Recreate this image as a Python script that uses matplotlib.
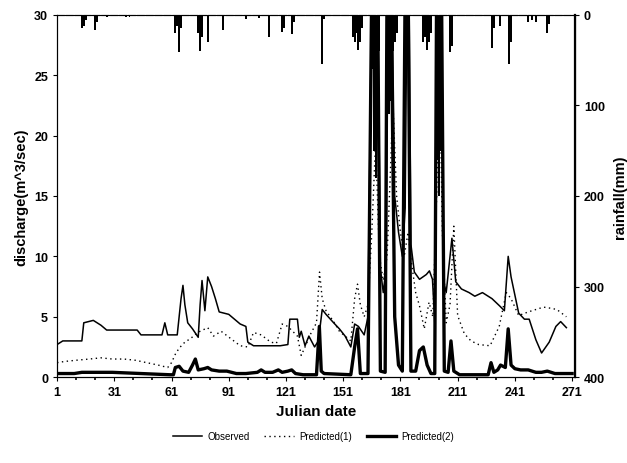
import numpy as np
import matplotlib
matplotlib.use("Agg")
import matplotlib.pyplot as plt
from matplotlib.ticker import FixedLocator

plt.rcParams['font.family'] = ['Liberation Sans', 'DejaVu Sans']

# ---------------------------
# Daten
# ---------------------------
obs_day = [1, 4, 14, 15, 20, 24, 27, 43, 45, 56, 57.5, 59, 64, 66, 67, 68, 69.5, 72, 75,
           76, 77, 78.5, 80, 82, 84, 86, 91, 94, 97, 100, 101, 104, 118, 122, 123, 127,
           128, 129, 131, 133, 136, 138, 140, 142, 146, 149, 152, 155, 157, 159, 162,
           164, 166, 169, 170.5, 172, 173.5, 174.5, 176.5, 178, 180, 182, 183.5, 184.5,
           185.5, 186.5, 188.3, 191, 194.6, 196.2, 197.8, 199, 200, 202.5, 203.5, 205,
           208, 210, 213, 217, 220, 224, 229, 233, 235.5, 237.5, 239, 243, 246, 248.5,
           252, 255, 259, 262.5, 265, 268]
obs_val = [2.7, 3.0, 3.0, 4.5, 4.7, 4.3, 3.9, 3.9, 3.5, 3.5, 4.5, 3.5, 3.5, 6.5, 7.6, 6.0,
           4.5, 4.0, 3.3, 6.0, 8.0, 5.5, 8.3, 7.5, 6.5, 5.4, 5.2, 4.8, 4.4, 4.2, 2.9, 2.6,
           2.6, 2.7, 4.8, 4.8, 3.3, 3.8, 2.6, 3.4, 2.5, 3.0, 5.6, 5.2, 4.5, 4.0, 3.4, 2.5,
           4.4, 4.2, 3.5, 5.0, 33, 33, 9.0, 7.0, 9.0, 33, 33, 15, 12, 10, 14, 33, 33, 11,
           8.7, 8.1, 8.5, 8.8, 8.1, 4.5, 33, 33, 8.0, 7.0, 11.5, 7.9, 7.3, 7.0, 6.7, 7.0,
           6.5, 5.9, 5.5, 10.0, 8.3, 5.3, 4.8, 4.8, 3.1, 2.0, 2.9, 4.2, 4.6, 4.1]

p1_day = [1, 5, 11, 18, 24, 30, 36, 42, 48, 54, 59, 61, 63, 65, 68, 71, 74, 76, 80, 83,
          87, 92, 97, 101, 104, 108, 113, 116, 119, 122, 127, 129, 131, 134, 137, 138.6,
          140, 142, 146, 149, 152, 155, 157, 158.5, 160, 162, 164, 166, 168, 170, 172,
          174, 176, 177, 179, 181, 183, 185, 186.5, 189, 191, 193.5, 196, 198, 200,
          201.5, 203, 205, 207, 209, 211, 214.5, 218, 222, 228, 232.8, 236.5, 239, 243,
          248, 252, 256, 260, 263, 268]
p1_val = [1.2, 1.3, 1.4, 1.5, 1.6, 1.5, 1.5, 1.4, 1.2, 1.0, 0.8, 1.2, 1.9, 2.4, 2.9, 3.2,
          3.6, 3.8, 4.1, 3.4, 3.8, 3.2, 2.6, 2.5, 3.7, 3.5, 2.9, 2.8, 4.4, 4.2, 3.4, 1.8,
          2.5, 3.6, 4.5, 8.7, 6.5, 5.5, 4.6, 3.8, 3.4, 3.0, 6.5, 7.7, 6.0, 5.0, 6.0, 12,
          19.5, 10, 8, 10, 18, 23, 15, 12, 10, 12, 9.8, 7.0, 5.9, 4.0, 6.2, 5.0, 15, 26,
          12, 4.5, 6.0, 12.5, 5.1, 3.6, 3.0, 2.7, 2.6, 4.2, 7.0, 6.5, 5.1, 5.4, 5.6, 5.8,
          5.7, 5.6, 5.0]

p2_day = [1, 10, 14, 30, 45, 60, 62, 63, 65, 67, 70, 72, 73.5, 75, 78, 80, 82, 86, 90,
          95, 100, 106, 108, 110, 114, 117, 119, 122, 124, 126, 130, 137, 138.5, 139.5,
          141, 155, 157, 158.5, 160, 164, 166, 169, 170.5, 173, 174, 176, 178, 180, 182,
          183.5, 185, 186.5, 189, 191, 193, 195, 197, 199, 200, 202.5, 204, 206, 207.5,
          209, 212, 227, 228.5, 230, 232, 233.5, 236, 237.5, 239, 241, 244, 248, 252,
          255, 258, 262, 271]
p2_val = [0.3, 0.3, 0.4, 0.4, 0.3, 0.2, 0.2, 0.8, 0.9, 0.5, 0.4, 1.0, 1.5, 0.6, 0.7, 0.8,
          0.6, 0.5, 0.5, 0.3, 0.3, 0.4, 0.6, 0.4, 0.4, 0.6, 0.4, 0.5, 0.6, 0.3, 0.2, 0.2,
          4.2, 0.5, 0.3, 0.2, 2.5, 4.0, 0.3, 0.3, 33, 33, 0.5, 0.4, 33, 33, 5.0, 1.0, 0.5,
          33, 33, 0.5, 0.5, 2.2, 2.5, 1.0, 0.3, 0.3, 33, 33, 0.5, 0.4, 3.0, 0.5, 0.2, 0.2,
          1.2, 0.4, 0.6, 1.0, 0.8, 4.0, 1.0, 0.7, 0.6, 0.6, 0.4, 0.4, 0.5, 0.3, 0.3]

rain_day = [14, 15, 16, 21, 22, 27, 37, 39, 63, 64, 65, 66, 75, 76, 77, 80, 88, 100, 107,
            112, 119, 120, 124, 125, 140, 141, 156, 157, 158, 159, 160, 161, 166, 167,
            168, 169, 170, 174, 175, 176, 177, 178, 179, 184, 193, 194, 195, 196, 197,
            200, 201, 202, 203, 207, 208, 229, 230, 233, 238, 239, 248, 250, 252, 258, 259]
rain_mm = [15, 12, 6, 17, 8, 3, 2, 2, 20, 12, 41, 15, 20, 40, 25, 30, 17, 5, 4,
           25, 19, 15, 21, 8, 54, 5, 25, 30, 20, 39, 30, 15, 60, 150,
           180, 130, 40, 45, 110, 95, 40, 30, 20, 65, 30, 25, 39, 30, 20,
           160, 200, 150, 50, 41, 35, 37, 15, 12, 54, 30, 8, 6, 8, 20, 10]

x_ticks = [1, 31, 61, 91, 121, 151, 181, 211, 241, 271]

# ---------------------------
# Diagramm
# ---------------------------
fig = plt.figure(figsize=(6.27, 4.64), dpi=100)
ax = fig.add_axes([0.091, 0.185, 0.826, 0.781])

ax.plot(obs_day, obs_val, '-', color='black', linewidth=1.1, label='Observed')
ax.plot(p1_day, p1_val, color='black', linewidth=1.0, linestyle=(0, (1, 2.5)),
        label='Predicted(1)')
ax.plot(p2_day, p2_val, '-', color='black', linewidth=2.4, label='Predicted(2)')

ax.set_xlim(1, 272.5)
ax.set_ylim(0, 30)
ax.set_xticks(x_ticks)
ax.xaxis.set_minor_locator(FixedLocator(np.arange(11, 272, 10)))
ax.set_yticks(np.arange(0, 31, 5))
ax.tick_params(axis='both', which='major', direction='out', length=3, width=0.8,
               labelsize=9)
ax.tick_params(axis='x', which='minor', direction='out', length=2, width=1.2)
for lab in ax.get_xticklabels() + ax.get_yticklabels():
    lab.set_fontweight('bold')

ax.set_xlabel('Julian date', fontsize=11, fontweight='bold', labelpad=4)
ax.set_ylabel('discharge(m^3/sec)', fontsize=10.5, fontweight='bold', labelpad=4)

ax2 = ax.twinx()
ax2.bar(rain_day, rain_mm, width=1.0, color='black', align='center')
ax2.set_ylim(400, 0)
ax2.set_yticks([0, 100, 200, 300, 400])
ax2.tick_params(axis='y', direction='out', length=3, width=0.8, labelsize=9)
for lab in ax2.get_yticklabels():
    lab.set_fontweight('bold')
ax2.set_ylabel('rainfall(mm)', fontsize=10.5, fontweight='bold', labelpad=6)
ax2.spines['right'].set_linewidth(1.6)
ax2.spines['left'].set_linewidth(0.8)
ax2.spines['top'].set_linestyle((0, (6, 2)))

ax.legend(loc='center', bbox_to_anchor=(0.5, 1 - 437 / 464),
          bbox_transform=fig.transFigure, ncol=3, frameon=False, fontsize=7,
          handlelength=3, columnspacing=1.5, handletextpad=0.6)

fig.savefig('out.png', dpi=100)
